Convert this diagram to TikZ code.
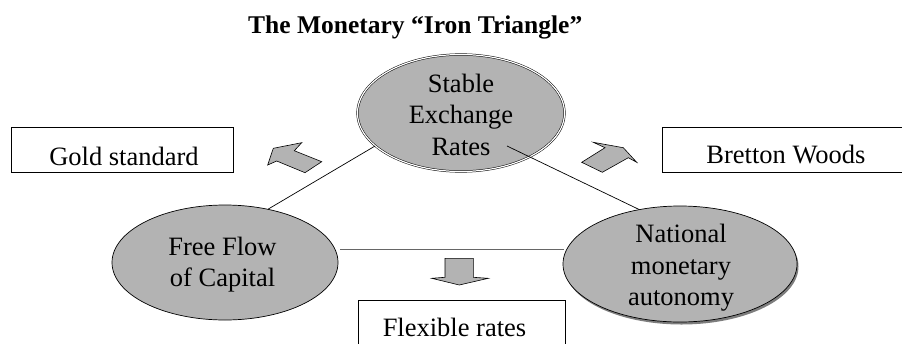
\documentclass[tikz,border=0pt]{standalone}
\usepackage{fontspec}
\setmainfont{Liberation Serif}
\usetikzlibrary{shapes.geometric}
\definecolor{ovalfill}{RGB}{179,179,179}
\definecolor{shadowgray}{RGB}{125,125,125}
\begin{document}
\begin{tikzpicture}[x=1pt,y=-1pt,
  oval/.style={ellipse, draw=black, line width=0.7pt, fill=ovalfill, inner sep=0pt},
  shadowoval/.style={ellipse, fill=shadowgray, inner sep=0pt},
  txt/.style={inner sep=0pt, align=center, font=\fontsize{26.5}{31.5}\selectfont},
  lbl/.style={draw=black, line width=0.7pt, fill=white, inner sep=0pt},
  blockarrow/.style={draw=black, line width=0.6pt, fill=ovalfill, line join=miter},
  link/.style={draw=black, line width=0.7pt},
  graylink/.style={draw=black!60, line width=0.8pt}]
\useasboundingbox (0,0) rectangle (902,343);
\begin{scope}
\clip (0,0) rectangle (902,343);
% title
\node[inner sep=0pt, anchor=base west, font=\fontsize{25.5}{30}\selectfont\bfseries] (title) at (248,33) {The Monetary “Iron Triangle”};
% label boxes
\node[lbl, anchor=north west, minimum width=222, minimum height=45] (goldbox) at (11,127) {};
\node[txt, anchor=base] (goldtxt) at (124,165) {Gold standard};
\node[lbl, anchor=north west, minimum width=248, minimum height=45] (bwbox) at (662,127) {};
\node[txt, anchor=base] (bwtxt) at (786,163) {Bretton Woods};
\node[lbl, anchor=north west, minimum width=207, minimum height=60] (flexbox) at (358,300) {};
\node[txt, anchor=base] (flextxt) at (454.5,336) {Flexible rates};
% ellipses
\node[oval, double=white, double distance=1.2pt, line width=0.5pt, minimum width=207, minimum height=117] (stable) at (461,113) {};
\node[txt] (stabletxt) at (461,114.5) {Stable\\Exchange\\Rates};
\node[oval, minimum width=226, minimum height=115] (free) at (225,262.5) {};
\node[txt] (freetxt) at (222.5,264.5) {Free Flow\\of Capital};
\node[shadowoval, minimum width=234, minimum height=116] (natlshadow) at (681.5,266.5) {};
\node[oval, minimum width=234, minimum height=116] (natl) at (680,264) {};
\node[txt] (natltxt) at (681,268) {National\\monetary\\autonomy};
% connectors
\coordinate (rstart) at (507,146);
\coordinate (bstart) at (340,249);
\coordinate (bend) at (564,249);
\draw[link] (stable.201) -- (free.51);
\draw[link] (rstart) -- (natl.127);
\draw[graylink] (bstart) -- (bend);
% block arrows
\draw[blockarrow] (273.3,148.3) -- (301.7,142.7) -- (294.3,150.7) -- (321.7,161.7) -- (305,172.7) -- (276.7,161) -- (267.7,165) -- cycle;
\draw[blockarrow] (623.3,147.7) -- (636.7,162.3) -- (628.3,157.7) -- (602.3,172.3) -- (581.7,162.3) -- (605,147.7) -- (593.3,142.3) -- cycle;
\draw[blockarrow] (445,258.3) -- (473.3,258.3) -- (473.3,277.3) -- (488.3,278.3) -- (459.3,285) -- (431.7,278.3) -- (445,277.3) -- cycle;
\end{scope}
\end{tikzpicture}
\end{document}
